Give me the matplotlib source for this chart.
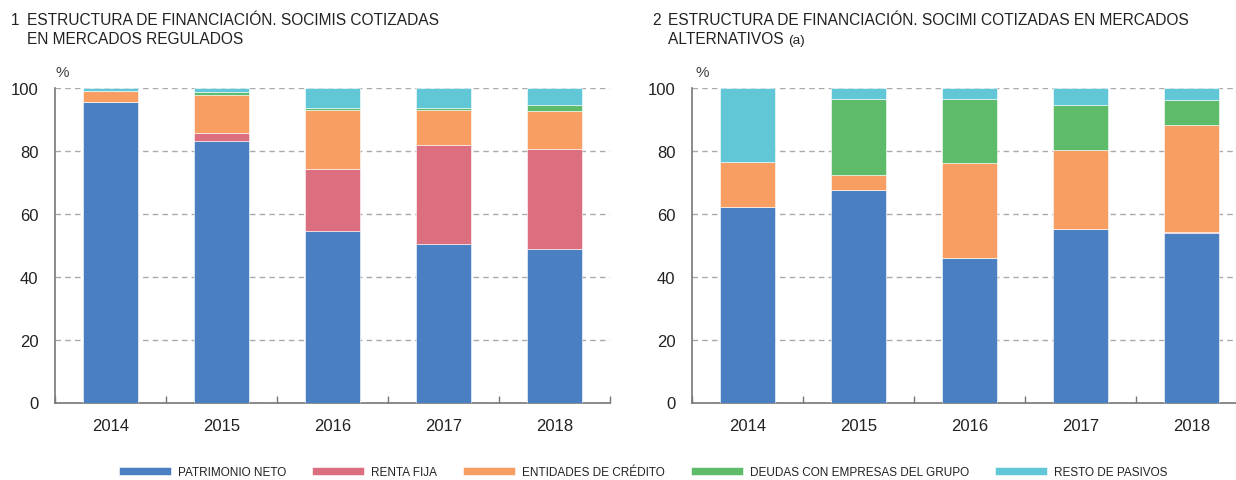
import matplotlib
matplotlib.use("Agg")
import matplotlib.pyplot as plt
import numpy as np

plt.rcParams['font.family'] = ['Liberation Sans', 'DejaVu Sans']

years = ['2014', '2015', '2016', '2017', '2018']
series_names = ['PATRIMONIO NETO', 'RENTA FIJA', 'ENTIDADES DE CRÉDITO',
                'DEUDAS CON EMPRESAS DEL GRUPO', 'RESTO DE PASIVOS']
colors = ['#4a7fc1', '#db6e7f', '#f89e63', '#5dbb6a', '#61c7d6']

# panel 1: regulated markets
patrimonio_1 = [95.6, 83.0, 54.4, 50.5, 48.7]
renta_1 = [0.0, 2.6, 20.0, 31.5, 32.0]
credito_1 = [3.3, 12.3, 18.7, 11.0, 12.1]
grupo_1 = [0.0, 0.8, 0.4, 0.7, 1.9]
resto_1 = [1.1, 1.3, 6.5, 6.3, 5.3]

# panel 2: alternative markets
patrimonio_2 = [62.2, 67.5, 45.9, 55.3, 53.9]
renta_2 = [0.0, 0.0, 0.0, 0.0, 0.2]
credito_2 = [14.4, 4.7, 30.4, 25.1, 34.1]
grupo_2 = [0.0, 24.4, 20.3, 14.3, 7.9]
resto_2 = [23.4, 3.4, 3.4, 5.3, 3.9]

yticks = [0, 20, 40, 60, 80, 100]

W, H = 1236, 481
fig = plt.figure(figsize=(W / 100, H / 100), dpi=100)
text_color = '#222222'
spine_color = '#777777'


def draw_panel(ax, stacks):
    x = np.arange(len(years))
    bottom = np.zeros(len(years))
    handles = []
    for vals, col, name in zip(stacks, colors, series_names):
        vals = np.asarray(vals, dtype=float)
        h = ax.bar(x, vals, bottom=bottom, width=0.5, color=col,
                   edgecolor='#ffffff', linewidth=0.4, label=name, zorder=3)
        handles.append(h)
        bottom += vals
    ax.set_ylim(0, 100)
    ax.set_xlim(-0.5, len(years) - 0.5)
    ax.set_yticks(yticks)
    ax.set_xticks(x)
    ax.set_xticklabels(years)
    ax.set_xticks(np.arange(len(years) + 1) - 0.5, minor=True)
    ax.tick_params(axis='x', which='major', length=0, pad=11,
                   labelsize=12, labelcolor=text_color)
    ax.tick_params(axis='x', which='minor', length=5, direction='in',
                   color=spine_color, width=1)
    ax.tick_params(axis='y', length=0, pad=12, labelsize=12,
                   labelcolor=text_color)
    ax.yaxis.grid(True, color='#aaaaaa', linestyle=(0, (4, 3)),
                  linewidth=1, zorder=0)
    ax.set_axisbelow(True)
    for s in ('top', 'right'):
        ax.spines[s].set_visible(False)
    for s in ('left', 'bottom'):
        ax.spines[s].set_color(spine_color)
        ax.spines[s].set_linewidth(1.2)
    return handles


bot = 1 - 403.5 / H
top = 1 - 89 / H
ax1 = fig.add_axes([55 / W, bot, 555 / W, top - bot])
ax2 = fig.add_axes([692 / W, bot, 555 / W, top - bot])

handles = draw_panel(ax1, [patrimonio_1, renta_1, credito_1, grupo_1, resto_1])
draw_panel(ax2, [patrimonio_2, renta_2, credito_2, grupo_2, resto_2])

# titles
tsize = 11.2
y1, y2 = 1 - 25.3 / H, 1 - 43.7 / H
fig.text(11 / W, y1, '1', fontsize=tsize, color=text_color, va='baseline')
fig.text(27 / W, y1, 'ESTRUCTURA DE FINANCIACIÓN. SOCIMIS COTIZADAS',
         fontsize=tsize, color=text_color, va='baseline', ha='left')
fig.text(27 / W, y2, 'EN MERCADOS REGULADOS',
         fontsize=tsize, color=text_color, va='baseline', ha='left')
fig.text(652 / W, y1, '2', fontsize=tsize, color=text_color, va='baseline')
fig.text(668 / W, y1, 'ESTRUCTURA DE FINANCIACIÓN. SOCIMI COTIZADAS EN MERCADOS',
         fontsize=tsize, color=text_color, va='baseline', ha='left')
t = fig.text(668 / W, y2, 'ALTERNATIVOS ',
             fontsize=tsize, color=text_color, va='baseline', ha='left')
fig.canvas.draw()
bb = t.get_window_extent()
fig.text(bb.x1 / W, y2, '(a)', fontsize=tsize - 1.5,
         color=text_color, va='baseline', ha='left')

fig.text(55 / W, 1 - 73 / H, '%', fontsize=11, color='#444444',
         va='center', ha='left')
fig.text(695 / W, 1 - 73 / H, '%', fontsize=11, color='#444444',
         va='center', ha='left')

fsize = 8.5
em = fsize * 100 / 72
fig.legend(handles=handles, labels=series_names, loc='center',
           bbox_to_anchor=(643 / W, 1 - 473 / H), ncol=5, frameon=False,
           fontsize=fsize, handlelength=52 / em, handleheight=0.75,
           handletextpad=7 / em, columnspacing=26 / em, labelcolor=text_color,
           borderpad=0, borderaxespad=0)

fig.savefig('out.png', dpi=100)
